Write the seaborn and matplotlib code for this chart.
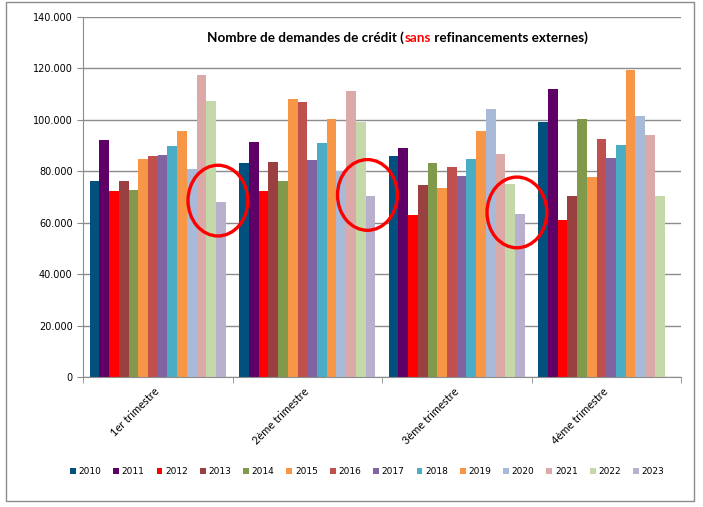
import matplotlib
matplotlib.use('Agg')

import pandas as pd
import numpy as np
import matplotlib.pyplot as plt
import seaborn as sns
from matplotlib.patches import Ellipse, Rectangle, Patch
from matplotlib.ticker import FuncFormatter


quarters = ['1er trimestre', '2ème trimestre', '3ème trimestre', '4ème trimestre']
years = ['2010', '2011', '2012', '2013', '2014', '2015', '2016',
         '2017', '2018', '2019', '2020', '2021', '2022', '2023']

# values per year, one entry per quarter (2023 has no 4th quarter yet)
values = {
    '2010': [76300, 83400, 85800, 99000],
    '2011': [92000, 91300, 89200, 112000],
    '2012': [72200, 72200, 63100, 61100],
    '2013': [76100, 83500, 74700, 70500],
    '2014': [72600, 76100, 83100, 100300],
    '2015': [84900, 108100, 73400, 77600],
    '2016': [85900, 107100, 81800, 92700],
    '2017': [86300, 84300, 78200, 85200],
    '2018': [89800, 90900, 84700, 90200],
    '2019': [95800, 100300, 95800, 119400],
    '2020': [80800, 80000, 104200, 101500],
    '2021': [117600, 111200, 86700, 94100],
    '2022': [107300, 99000, 75100, 70500],
    '2023': [68100, 70300, 63500, np.nan],
}

colors = ['#02507E', '#5E0066', '#FF0000', '#9B4040', '#80994A', '#F79646', '#C0504D',
          '#8064A2', '#4BACC6', '#F79646', '#A9B9D8', '#DAA9A8', '#C5D8A9', '#B8B0CC']

circled_year = '2023'

rows = []
for y in years:
    for q, v in zip(quarters, values[y]):
        if not np.isnan(v):
            rows.append({'trimestre': q, 'annee': y, 'demandes': v})
df = pd.DataFrame(rows)

fig = plt.figure(figsize=(7.03, 5.07), dpi=100)
ax = fig.add_axes([83 / 703, 1 - 377 / 507, 598 / 703, 360 / 507])

sns.barplot(data=df, x='trimestre', y='demandes', hue='annee', order=quarters,
            hue_order=years, palette=colors, width=0.91, saturation=1,
            edgecolor='none', linewidth=0, legend=False, ax=ax)

ax.set_xlim(-0.5, 3.5)
ax.set_ylim(0, 140000)
ax.set_yticks(np.arange(0, 140001, 20000))
ax.yaxis.set_major_formatter(FuncFormatter(lambda v, p: f"{v:,.0f}".replace(',', '.')))
ax.grid(axis='y', color='#8C8C8C', lw=1)
ax.set_axisbelow(True)
ax.set_xlabel('')
ax.set_ylabel('')

for s in ['top', 'right']:
    ax.spines[s].set_visible(False)
for s in ['left', 'bottom']:
    ax.spines[s].set_color('#8C8C8C')

ax.tick_params(axis='y', length=4.5, color='#8C8C8C', pad=3, labelsize=7)
ax.set_xticks(range(len(quarters)))
ax.set_xticklabels(quarters, rotation=45, ha='right', va='center', rotation_mode='anchor',
                   fontsize=8, family='Lato')
ax.tick_params(axis='x', length=0, pad=9)
ax.set_xticks(np.arange(-0.5, 4, 1), minor=True)
ax.tick_params(axis='x', which='minor', length=4, color='#8C8C8C')

# red circles around the 2023 bars
cont = ax.containers[years.index(circled_year)]
for bar in cont:
    h = bar.get_height()
    if np.isnan(h) or h == 0:
        continue
    cx = bar.get_x() + bar.get_width() / 2 - 0.02
    ax.add_patch(Ellipse((cx, h + 500), 0.4, 27500, fill=False, ec='#FF0000', lw=2.4, zorder=5))

# title with the red word
fs = 9.7
t1 = ax.text(0.208, 0.944, 'Nombre de demandes de crédit (', transform=ax.transAxes,
             fontsize=fs, fontweight='bold', family='Lato', va='center', ha='left')
t2 = ax.annotate('sans', xycoords=t1, xy=(1, 0), va='bottom', ha='left',
                 fontsize=fs, fontweight='bold', family='Lato', color='#FF0000')
t3 = ax.annotate(' refinancements externes)', xycoords=t2, xy=(1, 0), va='bottom', ha='left',
                 fontsize=fs, fontweight='bold', family='Lato')

handles = [Patch(facecolor=c, edgecolor='none') for c in colors]
fig.legend(handles, years, ncol=14, loc='center', bbox_to_anchor=(367 / 703, 1 - 472 / 507),
           frameon=False, fontsize=6.5, handlelength=0.65, handleheight=0.65,
           handletextpad=0.3, columnspacing=1.32)

fig.patches.append(Rectangle((6 / 703, 6 / 507), 688 / 703, 499 / 507, transform=fig.transFigure,
                             fill=False, ec='#8C8C8C', lw=1))

fig.savefig('out.png', dpi=100)
